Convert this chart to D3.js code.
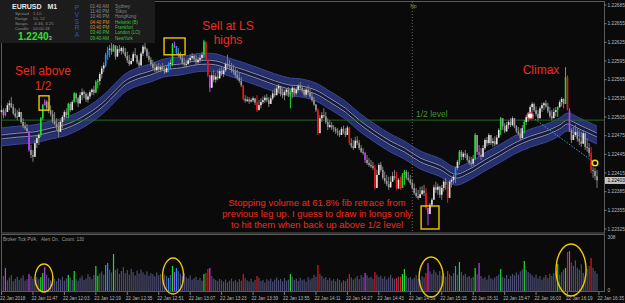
<!DOCTYPE html>
<html>
<head>
<meta charset="utf-8">
<script src="https://cdn.jsdelivr.net/npm/d3@7"></script>
<style>
html, body { margin: 0; padding: 0; background: #0a0a0a; }
svg { display: block; font-family: "Liberation Sans", Arial, sans-serif; }
</style>
</head>
<body>
<div id="chart"></div>
<script>
// EURUSD M1, 22 Jan 2018, one bar per minute from 11:31
// prices in points above 1.22000 (1 pt = 0.00001)
var base = 1.22;
var firstOpen = 513;

var high = [
  524,519,519,528,532,537,526,519,516,519, 511,503,497,494,471,460,452,468,476,479,
  505,526,534,532,529,524,516,513,503,497, 500,508,516,519,528,529,532,545,542,537,
  545,551,548,545,543,548,551,555,564,566, 577,587,593,608,618,621,624,622,616,619,
  621,618,619,616,610,605,600,610,616,605, 597,610,621,626,616,610,601,597,593,590,
  592,589,592,587,589,593,597,624,626,618, 616,610,605,600,597,600,605,608,606,605,
  601,605,610,629,618,597,572,577,581,576, 581,584,587,584,593,605,597,592,589,584,
  581,576,569,556,540,538,537,535,538,535, 540,532,535,538,540,542,537,540,548,551,
  556,558,555,551,548,551,553,548,555,551, 553,558,561,556,551,553,556,551,545,537,
  526,519,508,513,519,513,503,500,497,492, 489,487,484,489,491,487,491,489,471,468,
  473,474,468,460,455,449,444,439,436,433, 428,420,431,433,425,417,412,409,410,417,
  420,417,407,409,415,420,420,417,412,404, 398,391,388,393,394,396,391,359,367,375,
  396,401,398,394,396,404,407,401,404,407, 412,425,436,452,452,449,452,447,442,441,
  444,479,468,460,455,460,471,473,479,476, 471,474,476,487,505,500,495,497,500,503,
  506,503,492,489,487,492,500,508,513,524, 529,528,522,516,522,528,529,532,528,521,
  516,519,521,522,532,537,535,585,572,519, 487,489,492,487,484,481,484,479,471,463,
  457,425,423,420
];
var low = [
  511,503,506,513,516,519,508,503,500,505, 494,487,484,479,449,439,433,444,455,460,
  473,500,523,516,511,506,495,492,484,473, 481,487,500,503,503,513,516,528,529,521,
  526,532,535,529,528,534,540,540,544,551, 556,567,577,585,597,601,605,610,597,605,
  608,605,606,600,592,587,589,593,600,590, 584,587,603,610,600,593,587,581,577,576,
  577,577,579,574,576,577,581,587,616,605, 601,597,589,585,584,589,593,597,593,589,
  590,592,597,600,595,569,545,556,561,560, 564,568,571,569,577,584,581,576,573,568,
  564,560,553,532,528,529,526,528,529,524, 513,516,519,526,528,529,521,526,532,537,
  540,544,538,535,532,540,537,519,535,538, 540,545,548,544,538,537,540,535,529,523,
  513,476,489,497,503,494,484,487,484,481, 478,475,473,476,478,473,478,460,455,452,
  457,460,452,447,444,431,428,425,423,420, 388,399,412,417,404,398,394,388,391,401,
  404,388,391,388,391,396,404,401,396,388, 380,375,372,376,380,378,356,331,349,360,
  372,383,380,375,372,385,388,367,388,392, 398,399,420,428,436,436,439,433,428,425,
  426,436,444,441,436,444,452,458,460,460, 457,458,462,471,476,484,479,481,486,489,
  490,487,479,475,468,476,479,492,497,508, 513,513,506,500,505,513,516,519,511,503,
  500,505,506,505,519,522,519,528,516,481, 463,468,473,465,460,457,463,452,449,441,
  415,407,404,391
];
var close = [
  516,508,513,524,527,521,511,506,505,513, 497,490,487,482,452,444,441,463,471,476,
  503,524,530,519,516,510,498,494,489,481, 497,505,513,508,526,516,529,543,535,527,
  540,545,542,533,538,545,549,544,561,563, 574,583,588,605,613,615,610,620,602,614,
  611,616,609,603,596,590,595,606,604,593, 588,607,618,614,603,597,590,584,580,586,
  581,585,582,577,584,590,592,621,619,608, 605,600,592,589,590,596,600,603,598,593,
  597,600,605,626,597,572,552,572,565,570, 567,579,574,580,590,588,585,580,578,572,
  568,563,556,534,531,533,530,532,535,528, 516,524,529,532,536,532,526,535,543,540,
  551,555,542,540,545,549,541,545,552,543, 549,555,552,548,541,549,544,538,532,525,
  516,479,503,508,506,497,489,492,488,486, 482,480,476,486,482,476,488,463,458,455,
  467,463,455,449,447,436,431,428,426,423, 391,412,428,420,407,402,397,392,401,410,
  407,390,404,391,412,417,407,404,399,391, 383,378,375,381,387,383,359,349,364,372,
  392,388,393,380,391,401,396,375,401,404, 409,423,433,449,441,446,444,436,431,430,
  438,476,449,444,441,455,468,463,476,463, 466,461,472,484,503,490,482,492,497,492,
  503,490,482,478,471,487,497,505,510,521, 526,516,510,503,519,524,527,522,514,506,
  503,513,516,521,529,534,526,569,516,484, 468,476,481,470,466,462,479,457,455,447,
  420,418,410,403
];
// Broker tick volume
var volume = [
  70,85,129,60,75,90,55,68,80,62, 72,88,58,66,95,84,70,62,78,66,
  78,101,134,90,74,60,82,68,55,72, 64,80,58,70,90,76,62,112,66,58,
  74,86,62,70,95,80,66,90,140,85, 98,110,92,146,157,120,104,207,118,126,
  96,112,134,100,118,92,124,106,88,115, 98,120,104,92,110,86,100,94,82,104,
  88,96,78,92,84,73,90,140,106,129, 112,96,84,100,78,70,88,64,72,80,
  62,74,58,95,101,123,129,84,70,62, 55,68,60,52,64,48,58,70,54,62,
  50,66,58,95,72,60,54,68,50,62, 84,74,56,62,48,66,58,70,52,64,
  76,60,68,54,72,58,64,95,80,62, 70,56,74,60,66,52,78,64,72,90,
  80,146,96,84,70,78,62,74,58,66, 54,70,62,48,60,56,68,95,76,64,
  72,84,66,90,78,101,88,74,80,68, 106,92,78,86,70,82,64,76,90,72,
  68,73,80,80,95,123,84,72,78,66, 74,88,70,64,82,76,101,157,110,96,
  118,104,90,112,86,98,80,112,94,84, 100,140,92,162,106,88,96,78,84,72,
  80,129,94,157,84,70,78,64,88,72, 66,76,84,92,123,80,72,90,68,84,
  96,88,104,92,110,120,168,118,106,98, 88,76,92,70,84,64,78,90,72,96,
  84,100,112,151,92,106,120,129,218,224, 160,140,172,130,118,150,102,88,124,140,
  185,130,112,96
];

// PVSRA highlighted bars (bar index)
var pvsraGreen  = [20,21,34,37,48,49,57,87,103,147,204,205,233,241,254,266,283,287];
var pvsraRed    = [104,105,123,130,161,177,190,201,203,216,227,288,300];
var pvsraPurple = [2,14,22,88,106,185,217,243,289];
var pvsraBlue   = [53,54,85,89,231];

// moving average band, read at these bars (points)
var bandBar = [0,9,17,25,32,40,48,53,58,63,68,76,83,91,99,104,109,116,124,132,139,147,152,160,167,175,182,190,198,205,213,223,231,238,246,254,261,269,277,284,288,294,303];
var bandMid = [473,476,478,484,489,500,516,529,545,560,568,576,584,587,592,593,592,585,577,568,560,553,552,545,532,516,497,479,463,452,436,424,410,418,433,447,460,471,479,489,497,489,476];

var priceTicks = [1.22685,1.22655,1.22625,1.22595,1.22565,1.22535,1.22505,1.22475,1.22445,1.22415,1.22385,1.22355,1.22325];
var timeLabels = ["22 Jan 2018","22 Jan 11:47","22 Jan 12:03","22 Jan 12:19","22 Jan 12:35","22 Jan 12:51","22 Jan 13:07","22 Jan 13:23","22 Jan 13:39","22 Jan 13:55",
  "22 Jan 14:11","22 Jan 14:27","22 Jan 14:43","22 Jan 14:59","22 Jan 15:15","22 Jan 15:31","22 Jan 15:47","22 Jan 16:03","22 Jan 16:19","22 Jan 16:35"];
var halfLevel = 1.22500;
var bidPrice = 1.22403;
var volMax = 308;
var periodBar = 209;

var sessionTimes = ["01:40 AM","11:40 PM","10:40 PM","04:40 PM","03:40 PM","03:40 PM","09:40 AM"];
var sessionNames = ["Sydney","Tokyo","HongKong","Helsinki (B)","Frankfurt","London (LO)","NewYork"];
var infoLabels = ["Spread","Range","Swaps","Candle"];
var infoValues = ["1.10","50, 52","-6.46, 3.25","00:00:18"];

// annotation boxes: [bar from, bar to, price top, price bottom]
var boxes = [[19.1,24.2,1.22539,1.22516],[82.7,93.4,1.22632,1.22605],[213.5,222.6,1.22362,1.22325]];
// volume circles: [bar, volume, rx, ry]
var volRings = [[21.6,73,9,14],[87.3,84,10.5,18],[218.6,78,12,20],[289.8,118,15,26]];
// trend markers: [bar, price]
var markers = [[269,1.22507],[302,1.22431]];

var W = 625, H = 303;
var svg = d3.select("#chart").append("svg").attr("width", W).attr("height", H);
svg.append("rect").attr("width", W).attr("height", H).attr("fill", "#0a0a0a");

var x = d3.scaleLinear().domain([0, 303]).range([1.5, 597]);
var y = d3.scaleLinear().domain([1.22325, 1.22685]).range([229, 5]);
var yv = d3.scaleLinear().domain([0, volMax]).range([291, 236]);

var colorOf = {};
pvsraGreen.forEach(i => colorOf[i] = "#20dd30");
pvsraRed.forEach(i => colorOf[i] = "#ee1515");
pvsraPurple.forEach(i => colorOf[i] = "#c040f0");
pvsraBlue.forEach(i => colorOf[i] = "#1e90ff");

var bars = close.map(function(c, i) {
  var o = i == 0 ? firstOpen : close[i - 1];
  return {i: i, o: base + o / 1e5, c: base + c / 1e5,
          h: base + Math.max(high[i], o, c) / 1e5, l: base + Math.min(low[i], o, c) / 1e5,
          v: volume[i]};
});

// frame
svg.append("rect").attr("x", 1.5).attr("y", 1.5).attr("width", 603).attr("height", 231.5)
  .attr("fill", "none").attr("stroke", "#5a5a5a");
svg.append("rect").attr("x", 1.5).attr("y", 234.5).attr("width", 603).attr("height", 57)
  .attr("fill", "none").attr("stroke", "#5a5a5a");

// MA band
var band = bandBar.map((b, k) => ({b: b, p: base + bandMid[k] / 1e5}));
var curve = d3.curveCatmullRom;
function bandArea(off) {
  return d3.area().curve(curve).x(d => x(d.b)).y0(d => y(d.p) - off).y1(d => y(d.p) + off);
}
function bandLine(off) {
  return d3.line().curve(curve).x(d => x(d.b)).y(d => y(d.p) + off);
}
svg.append("path").datum(band).attr("d", bandArea(9)).attr("fill", "#27306e");
[-9, 9].forEach(o => svg.append("path").datum(band).attr("d", bandLine(o))
  .attr("fill", "none").attr("stroke", "#3a4596").attr("stroke-width", 1));
svg.append("path").datum(band).attr("d", bandArea(3)).attr("fill", "#151a40");
[-2, 2].forEach(o => svg.append("path").datum(band).attr("d", bandLine(o))
  .attr("fill", "none").attr("stroke", "#9c9cba").attr("stroke-width", 0.9));

// 1/2 level and new period line
svg.append("line").attr("x1", 2).attr("x2", 604).attr("y1", y(halfLevel)).attr("y2", y(halfLevel))
  .attr("stroke", "#1f6a1f").attr("stroke-width", 1);
svg.append("line").attr("x1", x(periodBar)).attr("x2", x(periodBar)).attr("y1", 2).attr("y2", 233)
  .attr("stroke", "#6a6a6a").attr("stroke-dasharray", "1,2");
svg.append("text").attr("x", x(periodBar) - 2).attr("y", 8).attr("font-size", 5)
  .attr("fill", "#9a9a30").text("Np");

// candles
var cg = svg.append("g");
cg.selectAll("line").data(bars).enter().append("line")
  .attr("x1", d => x(d.i)).attr("x2", d => x(d.i))
  .attr("y1", d => y(d.h)).attr("y2", d => y(d.l))
  .attr("stroke", d => colorOf[d.i] || "#7c7c7c").attr("stroke-width", 1);
cg.selectAll("rect").data(bars).enter().append("rect")
  .attr("x", d => x(d.i) - 0.8).attr("width", 1.6)
  .attr("y", d => y(Math.max(d.o, d.c)))
  .attr("height", d => Math.max(1, Math.abs(y(d.o) - y(d.c))))
  .attr("fill", d => colorOf[d.i] || (d.c >= d.o ? "#e2e2e2" : "#9a9a9a"));

// trend markers
svg.append("line").attr("x1", x(markers[0][0])).attr("y1", y(markers[0][1]))
  .attr("x2", x(markers[1][0])).attr("y2", y(markers[1][1]))
  .attr("stroke", "#2aa6cc").attr("stroke-width", 1).attr("stroke-dasharray", "1.5,1.5");
svg.append("circle").attr("cx", x(markers[0][0])).attr("cy", y(markers[0][1])).attr("r", 3)
  .attr("fill", "#ffffff").attr("stroke", "#e05060").attr("stroke-width", 1.3);
svg.append("circle").attr("cx", x(markers[1][0])).attr("cy", y(markers[1][1])).attr("r", 2.8)
  .attr("fill", "#0a0a0a").attr("stroke", "#f0dc10").attr("stroke-width", 1.5);

// yellow boxes
boxes.forEach(function(b) {
  svg.append("rect").attr("x", x(b[0])).attr("y", y(b[2]))
    .attr("width", x(b[1]) - x(b[0])).attr("height", y(b[3]) - y(b[2]))
    .attr("fill", "none").attr("stroke", "#f0c800").attr("stroke-width", 1.4);
});

// annotations
var red = "#f02a1e";
function note(tx, ty, s, size, col) {
  svg.append("text").attr("x", tx).attr("y", ty).attr("text-anchor", "middle")
    .attr("font-size", size).attr("fill", col || red).text(s);
}
note(43, 75, "Sell above", 12);
note(43, 89.5, "1/2", 12);
note(228, 29.5, "Sell at LS", 12);
note(228, 43.5, "highs", 12);
note(541, 74, "Climax", 12);
note(317, 206.3, "Stopping volume at 61.8% fib retrace from", 9.5);
note(317, 216.9, "previous leg up. I guess to draw in longs only", 9.5);
note(317, 227.5, "to hit them when back up above 1/2 level", 9.5);
svg.append("text").attr("x", 416).attr("y", 117).attr("font-size", 8.5)
  .attr("fill", "#4a9030").text("1/2 level");

// price axis
var ax = svg.append("g").attr("font-size", 4.8).attr("fill", "#b8b8b8");
priceTicks.forEach(function(p) {
  ax.append("line").attr("x1", 604).attr("x2", 606.5).attr("y1", y(p)).attr("y2", y(p)).attr("stroke", "#7a7a7a");
  ax.append("text").attr("x", 607.5).attr("y", y(p) + 1.7).text(p.toFixed(5));
});
svg.append("rect").attr("x", 605).attr("y", y(bidPrice) - 3.5).attr("width", 20).attr("height", 7)
  .attr("fill", "#c4c4c4");
svg.append("text").attr("x", 607.5).attr("y", y(bidPrice) + 1.7).attr("font-size", 4.8)
  .attr("fill", "#000").text(bidPrice.toFixed(5));

// volume
var vg = svg.append("g");
vg.selectAll("rect").data(bars).enter().append("rect")
  .attr("x", d => x(d.i) - 0.6).attr("width", 1.2)
  .attr("y", d => yv(d.v)).attr("height", d => yv(0) - yv(d.v))
  .attr("fill", d => colorOf[d.i] || "#4d4d72");
volRings.forEach(function(r) {
  svg.append("ellipse").attr("cx", x(r[0])).attr("cy", yv(r[1])).attr("rx", r[2]).attr("ry", r[3])
    .attr("fill", "none").attr("stroke", "#f0c800").attr("stroke-width", 1.4);
});
svg.append("text").attr("x", 3).attr("y", 240.5).attr("font-size", 4.6).attr("fill", "#9a9a9a")
  .attr("xml:space", "preserve").text("Broker Tick PVA:   Alert On,  Count: 130");
svg.append("text").attr("x", 607.5).attr("y", 238.5).attr("font-size", 4.8).attr("fill", "#b8b8b8").text(volMax);
svg.append("text").attr("x", 607.5).attr("y", 291.5).attr("font-size", 4.8).attr("fill", "#b8b8b8").text("0");

// time axis
var tg = svg.append("g").attr("font-size", 4.6).attr("fill", "#b8b8b8");
timeLabels.forEach(function(t, k) {
  var tx = x(k * 16);
  tg.append("line").attr("x1", tx).attr("x2", tx).attr("y1", 292).attr("y2", 295).attr("stroke", "#7a7a7a");
  tg.append("text").attr("x", tx - 1.5).attr("y", 299.5).text(t);
});

// info panel
var ip = svg.append("g");
ip.append("rect").attr("x", 0).attr("y", 0).attr("width", 155).attr("height", 43).attr("fill", "#1c1c1c");
ip.append("text").attr("x", 12).attr("y", 8.5).attr("font-size", 7).attr("font-weight", "bold")
  .attr("fill", "#e8e8e8").attr("xml:space", "preserve").text("EURUSD   M1");
infoLabels.forEach(function(l, k) {
  ip.append("text").attr("x", 15).attr("y", 14.5 + k * 5).attr("font-size", 4.3).attr("fill", "#8a8a8a").text(l);
  ip.append("text").attr("x", 33).attr("y", 14.5 + k * 5).attr("font-size", 4.3).attr("fill", "#8a8a8a").text(infoValues[k]);
});
ip.append("text").attr("x", 18).attr("y", 40).attr("font-size", 10).attr("font-weight", "bold")
  .attr("fill", "#30e030").text(bidPrice.toFixed(5).slice(0, 6));
ip.append("text").attr("x", 48.5).attr("y", 40).attr("font-size", 6).attr("fill", "#d0d0d0")
  .text(bidPrice.toFixed(5).slice(6));
"PVSRA".split("").forEach(function(ch, k) {
  ip.append("text").attr("x", 77).attr("y", 10 + k * 6.8).attr("text-anchor", "middle")
    .attr("font-size", 6.5).attr("fill", "#3550c8").text(ch);
});
sessionTimes.forEach(function(t, k) {
  var ty = 7.5 + k * 5.35;
  ip.append("text").attr("x", 90).attr("y", ty).attr("font-size", 4.5)
    .attr("fill", k < 3 ? "#8a8a8a" : (k < 5 ? "#d09030" : "#40c040")).text(t);
  ip.append("text").attr("x", 115).attr("y", ty).attr("font-size", 4.5)
    .attr("fill", k < 3 ? "#8a8a8a" : "#40c040").text(sessionNames[k]);
});
</script>
</body>
</html>
